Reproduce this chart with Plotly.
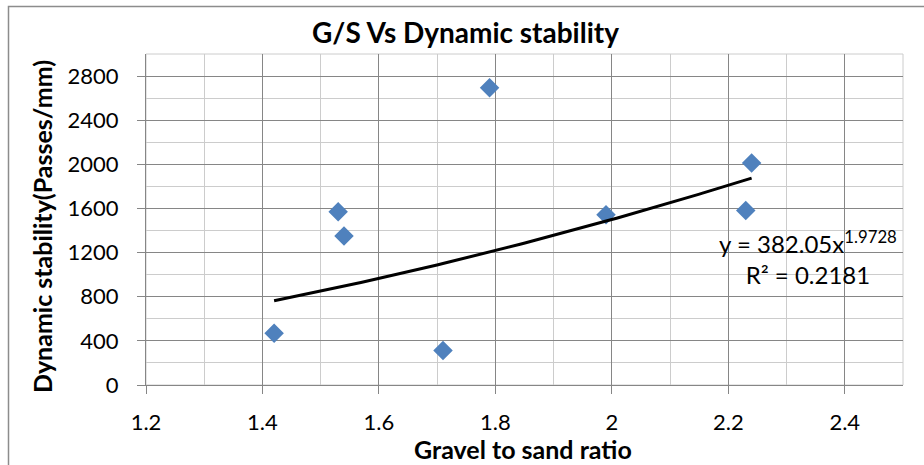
import numpy as np
import plotly.graph_objects as go

# Data
gs_ratio = [1.42, 1.53, 1.54, 1.71, 1.79, 1.99, 2.23, 2.24]
dyn_stability = [470, 1570, 1350, 312, 2695, 1543, 1582, 2012]
fit_a = 382.05
fit_b = 1.9728
r_squared = 0.2181

title_text = "G/S Vs Dynamic stability"
x_title = "Gravel to sand ratio"
y_title = "Dynamic stability(Passes/mm)"

FONT = "Lato"

# Trendline from the displayed power-law fit
xt = np.linspace(min(gs_ratio), max(gs_ratio), 100)
yt = fit_a * xt ** fit_b

fig = go.Figure()
fig.add_trace(go.Scatter(x=gs_ratio, y=dyn_stability, mode="markers",
                         marker=dict(symbol="diamond", size=15, color="#4F81BD",
                                     line=dict(width=0)),
                         showlegend=False, hoverinfo="x+y"))
fig.add_trace(go.Scatter(x=xt, y=yt, mode="lines",
                         line=dict(color="black", width=3),
                         showlegend=False, hoverinfo="skip"))

W, H = 924, 465
L, R, T, B = 146, 21, 54, 80
pw = W - L - R
ph = H - T - B

def px(xp):
    return (xp - L) / pw

def py(yp):
    return 1 - (yp - T) / ph

fig.update_layout(
    width=W, height=H,
    margin=dict(l=L, r=R, t=T, b=B, autoexpand=False),
    paper_bgcolor="white", plot_bgcolor="white",
    font=dict(family=FONT, color="black", size=22),
    xaxis=dict(range=[1.2, 2.5], tick0=1.2, dtick=0.2, showgrid=True,
               gridcolor="#868686", gridwidth=1,
               minor=dict(dtick=0.1, tick0=1.2, showgrid=True, gridcolor="#cccccc", gridwidth=1),
               ticks="outside", ticklen=8, tickcolor="#868686",
               showline=True, linecolor="#868686", linewidth=1,
               zeroline=False, tickfont=dict(size=22), ticklabelstandoff=10,
               automargin=False),
    yaxis=dict(range=[0, 3000], tick0=0, dtick=400, showgrid=True,
               gridcolor="#868686", gridwidth=1,
               minor=dict(dtick=200, tick0=0, showgrid=True, gridcolor="#cccccc", gridwidth=1),
               ticks="outside", ticklen=8, tickcolor="#868686",
               showline=True, linecolor="#868686", linewidth=1,
               zeroline=False, tickfont=dict(size=22), ticklabelstandoff=14,
               automargin=False),
)

# Plot frame top/right (light)
fig.add_shape(type="rect", xref="paper", yref="paper", x0=0, x1=1, y0=0, y1=1,
              line=dict(color="#cccccc", width=1), layer="below")
# Outer chart border
fig.add_shape(type="rect", xref="paper", yref="paper",
              x0=px(8.5), x1=px(940), y0=py(480), y1=py(6.5),
              line=dict(color="#8c8c8c", width=1.5), layer="above")

fig.add_annotation(text="<b>" + title_text + "</b>", xref="paper", yref="paper",
                   x=px(465), y=py(32), showarrow=False, font=dict(size=28),
                   xanchor="center", yanchor="middle")
fig.add_annotation(text="<b>" + x_title + "</b>", xref="paper", yref="paper",
                   x=px(523), y=py(449), showarrow=False, font=dict(size=25),
                   xanchor="center", yanchor="middle")
fig.add_annotation(text="<b>" + y_title + "</b>", xref="paper", yref="paper",
                   x=px(41.5), y=py(226.5), showarrow=False, font=dict(size=25),
                   textangle=-90, xanchor="center", yanchor="middle")
fig.add_annotation(text=f"y = {fit_a}x<sup>{fit_b}</sup><br>R² = {r_squared}",
                   xref="paper", yref="paper", x=px(807.5), y=py(257),
                   showarrow=False, font=dict(size=24), align="center",
                   xanchor="center", yanchor="middle")

fig.write_html("out.html", config={"displayModeBar": False},
               post_script="document.body.style.margin='0';document.body.style.overflow='hidden';")
